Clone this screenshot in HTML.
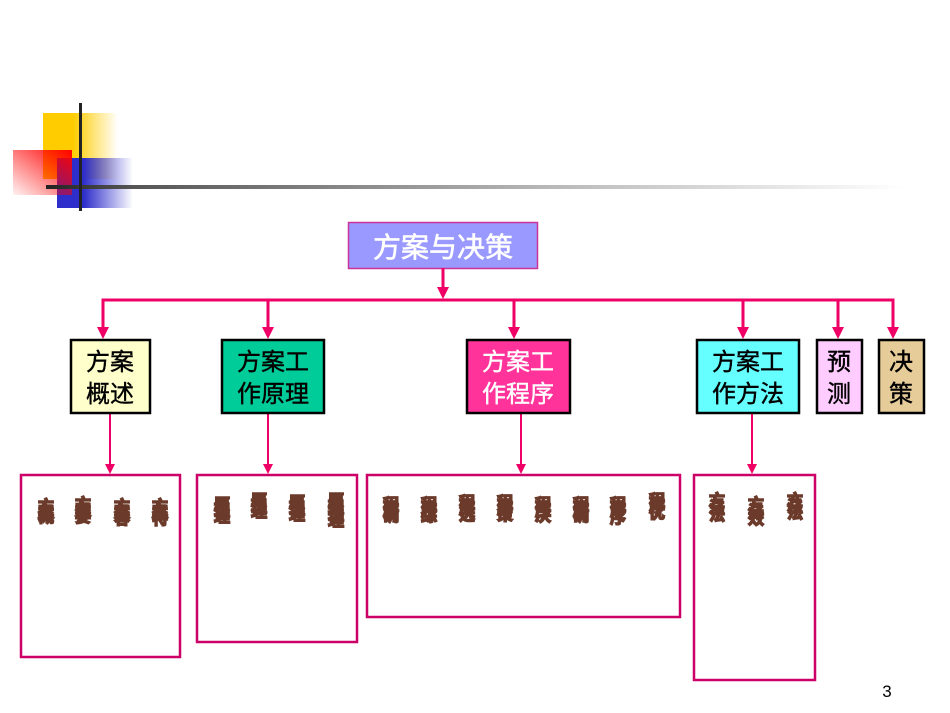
<!DOCTYPE html>
<html><head><meta charset="utf-8">
<style>
html,body{margin:0;padding:0;background:#fff;}
svg{display:block;}
.t{font-family:"Liberation Sans","Noto Sans CJK SC",sans-serif;}
</style></head>
<body>
<svg width="950" height="713" viewBox="0 0 950 713" xmlns="http://www.w3.org/2000/svg" class="t">
<defs>
<linearGradient id="gy" x1="0" x2="1" y1="0" y2="0"><stop offset="0.4" stop-color="#ffcc00"/><stop offset="1" stop-color="#ffcc00" stop-opacity="0"/></linearGradient>
<linearGradient id="gb" x1="0" x2="1" y1="0" y2="0"><stop offset="0.35" stop-color="#2e2ecc"/><stop offset="1" stop-color="#2e2ecc" stop-opacity="0"/></linearGradient>
<linearGradient id="gr" x1="1" x2="0" y1="0" y2="1"><stop offset="0" stop-color="#ff0000"/><stop offset="1" stop-color="#ff0000" stop-opacity="0.05"/></linearGradient>
<linearGradient id="gl" x1="0" x2="1" y1="0" y2="0"><stop offset="0" stop-color="#222"/><stop offset="0.1" stop-color="#555"/><stop offset="0.6" stop-color="#bbb"/><stop offset="1" stop-color="#fff"/></linearGradient>
</defs>
<rect x="43" y="113" width="75" height="66" fill="url(#gy)"/>
<rect x="57" y="158" width="76" height="50" fill="url(#gb)"/>
<rect x="13" y="150" width="59" height="45" fill="url(#gr)"/>
<rect x="46" y="185" width="860" height="4" fill="url(#gl)"/>
<rect x="79" y="103" width="3" height="108" fill="#222"/>

<rect x="348.5" y="222.5" width="189" height="46" fill="#9999ff" stroke="#cc3399" stroke-width="1.5"/>
<text x="443" y="257" text-anchor="middle" font-size="28" fill="#fff" stroke="#fff" stroke-width="0.6">方案与决策</text>

<g stroke="#ee0066" stroke-width="3" fill="none">
<line x1="443" y1="268" x2="443" y2="290"/>
<polyline points="103,330 103,300 893,300 893,330"/>
<line x1="268" y1="300" x2="268" y2="330"/>
<line x1="514" y1="300" x2="514" y2="330"/>
<line x1="743" y1="300" x2="743" y2="330"/>
<line x1="838" y1="300" x2="838" y2="330"/>
</g>
<g stroke="#ee0066" stroke-width="2">
<line x1="110" y1="413" x2="110" y2="466"/>
<line x1="268" y1="413" x2="268" y2="466"/>
<line x1="521" y1="413" x2="521" y2="466"/>
<line x1="752" y1="413" x2="752" y2="466"/>
</g>
<g fill="#ee0066">
<polygon points="437,287 449,287 443,299"/>
<polygon points="97,327 109,327 103,339"/>
<polygon points="262,327 274,327 268,339"/>
<polygon points="508,327 520,327 514,339"/>
<polygon points="737,327 749,327 743,339"/>
<polygon points="832,327 844,327 838,339"/>
<polygon points="887,327 899,327 893,339"/>
<polygon points="105,464 115,464 110,474"/>
<polygon points="263,464 273,464 268,474"/>
<polygon points="516,464 526,464 521,474"/>
<polygon points="747,464 757,464 752,474"/>
</g>

<g stroke="#000" stroke-width="2.5">
<rect x="71" y="340" width="79" height="73" fill="#ffffcc"/>
<rect x="222" y="340" width="102" height="73" fill="#00cc99"/>
<rect x="467" y="340" width="103" height="73" fill="#ff3399"/>
<rect x="697" y="340" width="102" height="73" fill="#66ffff"/>
<rect x="817" y="340" width="45" height="73" fill="#ffccff"/>
<rect x="879" y="340" width="45" height="73" fill="#e6cc99"/>
</g>
<g font-size="24" text-anchor="middle" fill="#000" stroke="#000" stroke-width="0.4">
<text x="110" y="370">方案</text><text x="110" y="402">概述</text>
<text x="273" y="370">方案工</text><text x="273" y="402">作原理</text>
<text x="518" y="370" fill="#fff" stroke="#fff">方案工</text><text x="518" y="402" fill="#fff" stroke="#fff">作程序</text>
<text x="748" y="370">方案工</text><text x="748" y="402">作方法</text>
<text x="839" y="370">预</text><text x="839" y="402">测</text>
<text x="901" y="370">决</text><text x="901" y="402">策</text>
</g>

<g stroke="#cc0066" stroke-width="2.5" fill="none">
<rect x="21" y="475" width="159" height="182"/>
<rect x="197" y="475" width="160" height="167"/>
<rect x="367" y="475" width="313" height="142"/>
<rect x="694" y="475" width="121" height="205"/>
</g>
<g font-size="16" font-weight="bold" fill="#6b3a2a" stroke="#6b3a2a" stroke-width="1.6" text-anchor="middle">
<text x="46" y="512">方</text><text x="46" y="518">案</text><text x="46" y="522">概</text>
<text x="83" y="510">方</text><text x="83" y="516">案</text><text x="83" y="522">要</text>
<text x="122" y="512">方</text><text x="122" y="518">案</text><text x="122" y="524">容</text>
<text x="160" y="512">方</text><text x="160" y="518">案</text><text x="160" y="524">特</text>
<text x="222" y="510">原</text><text x="222" y="516">理</text><text x="222" y="522">理</text>
<text x="259" y="506">原</text><text x="259" y="512">理</text><text x="259" y="517">理</text>
<text x="297" y="508">原</text><text x="297" y="514">理</text><text x="297" y="520">理</text>
<text x="336" y="506">原</text><text x="336" y="513">理</text><text x="336" y="520">理</text><text x="336" y="526">理</text>
<text x="391" y="510">程</text><text x="391" y="516">序</text><text x="391" y="521">确</text>
<text x="429" y="510">程</text><text x="429" y="516">序</text><text x="429" y="521">综</text>
<text x="467" y="508">程</text><text x="467" y="514">序</text><text x="467" y="520">选</text>
<text x="505" y="508">程</text><text x="505" y="514">序</text><text x="505" y="520">策</text>
<text x="543" y="510">程</text><text x="543" y="516">序</text><text x="543" y="521">决</text>
<text x="581" y="510">程</text><text x="581" y="516">序</text><text x="581" y="521">确</text>
<text x="618" y="510">程</text><text x="618" y="516">序</text><text x="618" y="523">序</text>
<text x="657" y="506">程</text><text x="657" y="512">序</text><text x="657" y="518">优</text>
<text x="717" y="506">方</text><text x="717" y="513">法</text><text x="717" y="520">法</text>
<text x="756" y="510">方</text><text x="756" y="517">法</text><text x="756" y="524">效</text>
<text x="795" y="506">方</text><text x="795" y="512">法</text><text x="795" y="518">法</text>
</g>

<text x="887" y="697" text-anchor="middle" font-size="17" fill="#000">3</text>
</svg>
</body></html>
